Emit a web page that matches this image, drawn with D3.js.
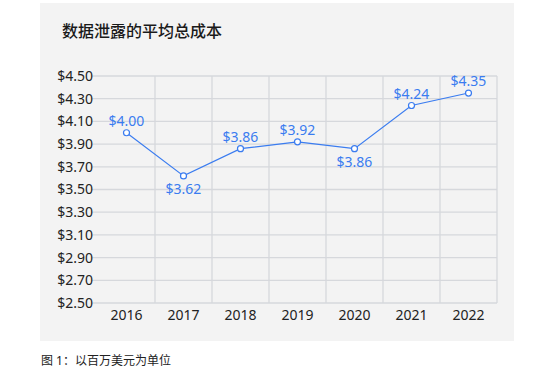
<!DOCTYPE html>
<html>
<head>
<meta charset="utf-8">
<script src="https://cdn.jsdelivr.net/npm/d3@7"></script>
<style>
  body { margin: 0; background: #fff; }
  text { font-family: "Noto Sans", "Noto Sans CJK SC", sans-serif; }
</style>
</head>
<body>
<div id="chart"></div>
<script>
// data
const years = ['2016', '2017', '2018', '2019', '2020', '2021', '2022'];
const costs = [4.00, 3.62, 3.86, 3.92, 3.86, 4.24, 4.35];
const labelBelow = [false, true, false, false, true, false, false];
const yTicks = [2.5, 2.7, 2.9, 3.1, 3.3, 3.5, 3.7, 3.9, 4.1, 4.3, 4.5];

const width = 554, height = 370;
const svg = d3.select('#chart').append('svg')
  .attr('width', width)
  .attr('height', height);

// grey panel behind the chart
svg.append('rect')
  .attr('x', 40).attr('y', 3)
  .attr('width', 474).attr('height', 338)
  .attr('fill', '#f3f3f3');

svg.append('text')
  .attr('x', 62).attr('y', 37)
  .attr('font-family', '"Noto Sans CJK SC", sans-serif')
  .attr('font-size', 16)
  .attr('font-weight', 500)
  .attr('fill', '#1a1a1a')
  .text('数据泄露的平均总成本');

const margin = { left: 98, right: 497, top: 76, bottom: 303 };

const x = d3.scaleBand()
  .domain(years)
  .range([margin.left, margin.right]);

const y = d3.scaleLinear()
  .domain([2.5, 4.5])
  .range([margin.bottom, margin.top]);

// horizontal grid lines
svg.append('g')
  .selectAll('line')
  .data(yTicks)
  .enter()
  .append('line')
  .attr('x1', margin.left - 6)
  .attr('x2', margin.right)
  .attr('y1', d => y(d))
  .attr('y2', d => y(d))
  .attr('stroke', '#d6d8dc')
  .attr('stroke-width', 1.3);

// vertical grid lines on band edges
svg.append('g')
  .selectAll('line')
  .data(years.slice(1).concat(['end']))
  .enter()
  .append('line')
  .attr('x1', d => d === 'end' ? margin.right : x(d))
  .attr('x2', d => d === 'end' ? margin.right : x(d))
  .attr('y1', margin.top)
  .attr('y2', margin.bottom)
  .attr('stroke', '#d6d8dc')
  .attr('stroke-width', 1.3);

// y axis labels
svg.append('g')
  .selectAll('text')
  .data(yTicks)
  .enter()
  .append('text')
  .attr('x', 93)
  .attr('y', d => y(d))
  .attr('dy', '0.35em')
  .attr('text-anchor', 'end')
  .attr('font-size', 14)
  .attr('fill', '#222')
  .text(d => '$' + d.toFixed(2));

// x axis labels
svg.append('g')
  .selectAll('text')
  .data(years)
  .enter()
  .append('text')
  .attr('x', d => x(d) + x.bandwidth() / 2)
  .attr('y', 320)
  .attr('text-anchor', 'middle')
  .attr('font-size', 14)
  .attr('fill', '#222')
  .text(d => d);

const blue = '#3a7cf0';
const pts = years.map((yr, i) => ({ year: yr, value: costs[i], below: labelBelow[i] }));

svg.append('path')
  .datum(pts)
  .attr('fill', 'none')
  .attr('stroke', blue)
  .attr('stroke-width', 1.2)
  .attr('d', d3.line()
    .x(d => x(d.year) + x.bandwidth() / 2)
    .y(d => y(d.value)));

svg.append('g')
  .selectAll('circle')
  .data(pts)
  .enter()
  .append('circle')
  .attr('cx', d => x(d.year) + x.bandwidth() / 2)
  .attr('cy', d => y(d.value))
  .attr('r', 3)
  .attr('fill', '#fff')
  .attr('stroke', blue)
  .attr('stroke-width', 1.2);

// value labels
svg.append('g')
  .selectAll('text')
  .data(pts)
  .enter()
  .append('text')
  .attr('x', d => x(d.year) + x.bandwidth() / 2)
  .attr('y', d => y(d.value) + (d.below ? 18 : -7))
  .attr('text-anchor', 'middle')
  .attr('font-size', 14)
  .attr('fill', blue)
  .text(d => '$' + d.value.toFixed(2));

svg.append('text')
  .attr('x', 41).attr('y', 365)
  .attr('font-family', '"Noto Sans CJK SC", sans-serif')
  .attr('font-size', 12)
  .attr('fill', '#222')
  .text('图 1：以百万美元为单位');
</script>
</body>
</html>
